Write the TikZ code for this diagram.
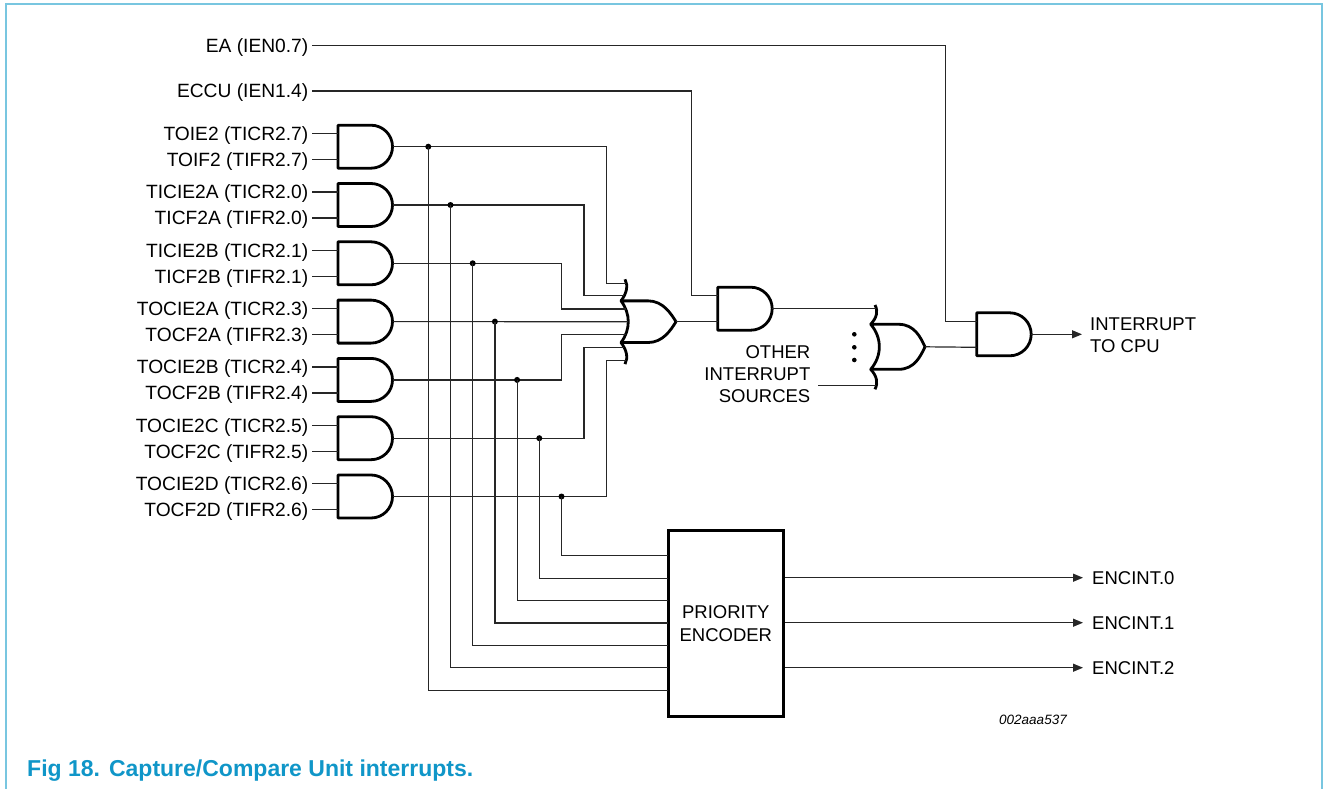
\documentclass[tikz,border=0pt]{standalone}
\usepackage{fontspec}
\setmainfont{Liberation Sans}
\usetikzlibrary{arrows.meta,calc}
\definecolor{framec}{RGB}{120,198,224}
\definecolor{capc}{RGB}{16,150,200}
\begin{document}
\begin{tikzpicture}[x=1pt,y=-1pt,
  wire/.style={line width=1.2pt, draw=black!85},
  gate/.style={line width=2.8pt, line join=round},
  lbl/.style={font=\fontsize{18.5}{22}\selectfont, inner sep=0pt},
  llbl/.style={font=\fontsize{19.2}{22}\selectfont, inner sep=0pt},
  jdot/.style={circle, fill, inner sep=0pt, minimum size=6pt},
  arr/.style={wire, -{Triangle[length=10pt,width=8pt]}},
  andg/.pic={
    \draw[gate] (0,-21.5) -- (33,-21.5) arc[start angle=90,end angle=-90,radius=21.5pt] -- (0,21.5) -- cycle;
    \coordinate (-in1) at (0,-13);
    \coordinate (-in2) at (0,13);
    \coordinate (-out) at (54.5,0);
  }
]
\useasboundingbox (0,0) rectangle (1327,789);
% frame
\draw[framec, line width=2pt] (6,789) -- (6,4) -- (1322,4) -- (1322,789);

% column helpers
\coordinate (cA) at (606.7,0);
\coordinate (cB) at (584,0);
\coordinate (cC) at (561.7,0);
\coordinate (cECCU) at (691.7,0);
\coordinate (cEA) at (945.7,0);

% left AND gates with labels
\foreach \i/\a/\b in {1/TOIE2 (TICR2.7)/TOIF2 (TIFR2.7),
                      2/TICIE2A (TICR2.0)/TICF2A (TIFR2.0),
                      3/TICIE2B (TICR2.1)/TICF2B (TIFR2.1),
                      4/TOCIE2A (TICR2.3)/TOCF2A (TIFR2.3),
                      5/TOCIE2B (TICR2.4)/TOCF2B (TIFR2.4),
                      6/TOCIE2C (TICR2.5)/TOCF2C (TIFR2.5),
                      7/TOCIE2D (TICR2.6)/TOCF2D (TIFR2.6)}{
  \pgfmathsetmacro{\yy}{146.7+58.3*(\i-1)}
  \pic (g\i) at (338,\yy) {andg};
  \coordinate (s\i a) at (312,\yy-13);
  \coordinate (s\i b) at (312,\yy+13);
  \node[llbl, anchor=base east] (l\i a) at ([xshift=-3.5pt,yshift=-6.8pt]s\i a) {\a};
  \node[llbl, anchor=base east] (l\i b) at ([xshift=-3.5pt,yshift=-6.8pt]s\i b) {\b};
  \draw[wire] (s\i a) -- (g\i-in1);
  \draw[wire] (s\i b) -- (g\i-in2);
}

% first OR gate (7 inputs)
\begin{scope}[shift={(621,321.7)}]
  \draw[gate] (0,-20.85) .. controls (9.7,-8) and (9.7,8) .. (0,20.85) -- (27,20.85)
     .. controls (42,20.85) and (50,8) .. (55,0) .. controls (50,-8) and (42,-20.85) .. (27,-20.85) -- cycle;
  \draw[gate] (4,-42.4) .. controls (7.5,-36) and (5.5,-28) .. (0,-20.85);
  \draw[gate] (4,42.4) .. controls (7.5,36) and (5.5,28) .. (0,20.85);
  \coordinate (o1) at (4.8,-38.4);
  \coordinate (o2) at (2.5,-26);
  \coordinate (o3) at (4.6,-12.7);
  \coordinate (o4) at (7.3,0);
  \coordinate (o5) at (4.6,12.6);
  \coordinate (o6) at (2.5,25.6);
  \coordinate (o7) at (4.8,38.6);
  \coordinate (oout) at (55,0);
\end{scope}

% wires from AND gates to OR gate
\draw[wire] (g1-out) -| (cA |- o1) -- (o1);
\draw[wire] (g2-out) -| (cB |- o2) -- (o2);
\draw[wire] (g3-out) -| (cC |- o3) -- (o3);
\draw[wire] (g4-out) -- (o4);
\draw[wire] (g5-out) -| (cC |- o5) -- (o5);
\draw[wire] (g6-out) -| (cB |- o6) -- (o6);
\draw[wire] (g7-out) -| (cA |- o7) -- (o7);

% priority encoder
\node[draw, line width=2.6pt, minimum width=115pt, minimum height=186pt, inner sep=0pt,
      align=center, font=\fontsize{18.5}{23}\selectfont] (enc) at (725.8,623.7) {PRIORITY\\ENCODER};
\foreach \k in {1,...,7}{
  \coordinate (ein\k) at (668.3,{555.7+22.4*(\k-1)});
}
% junction dots and taps to encoder
\foreach \i in {1,...,7}{
  \pgfmathsetmacro{\xx}{428.3+22.2*(\i-1)}
  \pgfmathsetmacro{\yy}{146.7+58.3*(\i-1)}
  \pgfmathtruncatemacro{\kk}{8-\i}
  \node[jdot] (d\i) at (\xx,\yy) {};
  \draw[wire] (d\i.center) |- (ein\kk);
}

% encoder outputs
\node[lbl, anchor=west] (enc0) at (1092,577.7) {ENCINT.0};
\node[lbl, anchor=west] (enc1) at (1092,622.7) {ENCINT.1};
\node[lbl, anchor=west] (enc2) at (1092,667.7) {ENCINT.2};
\draw[arr] (enc.east |- enc0.west) -- ([xshift=-9pt]enc0.west);
\draw[arr] (enc.east |- enc1.west) -- ([xshift=-9pt]enc1.west);
\draw[arr] (enc.east |- enc2.west) -- ([xshift=-9pt]enc2.west);

% second AND gate (ECCU)
\pic (g8) at (717.7,308.7) {andg};
\coordinate (eccuS) at (312,91);
\node[llbl, anchor=base east] (eccu) at ([xshift=-3.5pt,yshift=-6.8pt]eccuS) {ECCU (IEN1.4)};
\draw[wire] (eccuS) -| (cECCU |- g8-in1) -- (g8-in1);
\draw[wire] (oout) -- (g8-in2);

% second OR gate
\begin{scope}[shift={(870.7,346.8)}]
  \draw[gate] (0,-22.5) .. controls (11.5,-9) and (11.5,9) .. (0,22.5) -- (28,22.5)
     .. controls (44,22.5) and (50,9) .. (54.3,0) .. controls (50,-9) and (44,-22.5) .. (28,-22.5) -- cycle;
  \draw[gate] (4.3,-41.8) .. controls (7.8,-35) and (5.8,-29) .. (0,-22.5);
  \draw[gate] (4.3,42.5) .. controls (7.8,35.5) and (5.8,29) .. (0,22.5);
  \coordinate (p1) at (4.8,-38.1);
  \coordinate (p2) at (4.8,38.9);
  \coordinate (pout) at (54.3,0);
  \fill (-16.4,-12.5) circle[radius=2.3pt];
  \fill (-16.4,0.5) circle[radius=2.3pt];
  \fill (-16.4,13.2) circle[radius=2.3pt];
\end{scope}
\draw[wire] (g8-out) -- (g8-out -| p1);
\coordinate (srcS) at (818,385.7);
\draw[wire] (srcS) -- (p2);
\node[lbl, align=right, anchor=east, font=\fontsize{18.5}{22}\selectfont] (other) at (810.5,374) {OTHER\\INTERRUPT\\SOURCES};

% final AND gate
\pic (g10) at (976.7,334.3) {andg};
\coordinate (eaS) at (312,45.3);
\node[llbl, anchor=base east] (ea) at ([xshift=-3.5pt,yshift=-6.8pt]eaS) {EA (IEN0.7)};
\draw[wire] (eaS) -| (cEA |- g10-in1) -- (g10-in1);
\draw[wire] (pout) -- (g10-in2);
\node[lbl, align=left, anchor=west, font=\fontsize{18.5}{22}\selectfont] (cpu) at (1090,335) {INTERRUPT\\TO CPU};
\draw[arr] (g10-out) -- ([xshift=-8pt]cpu.west |- g10-out);

% figure code and caption
\node[anchor=base west, inner sep=0pt, font=\itshape\fontsize{13.5}{16}\selectfont] (code) at (999,724.8) {002aaa537};
\node[anchor=base west, inner sep=0pt, text=capc, font=\bfseries\fontsize{23}{27}\selectfont] (cap) at (27,776.5) {Fig 18.\hspace{9pt}Capture/Compare Unit interrupts.};
\end{tikzpicture}
\end{document}
